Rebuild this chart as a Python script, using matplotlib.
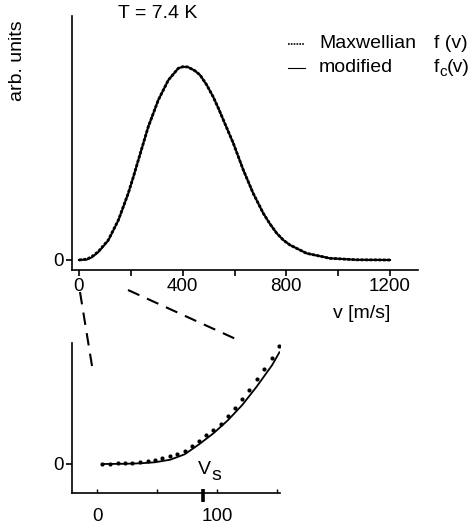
import matplotlib
matplotlib.use('Agg')
import matplotlib.pyplot as plt
from matplotlib.lines import Line2D

plt.rcParams['font.family'] = ['Liberation Sans', 'DejaVu Sans']

# main panel (v in m/s, arb. units)
v_main = [0, 30, 49, 74, 113, 152, 190, 210, 229, 267, 306, 345, 383, 400,
          420, 447, 467, 493, 518, 538, 557, 595, 634, 672, 711, 737, 763,
          788, 814, 878, 968, 1071, 1200]
f_max = [0, 0.8, 3.3, 8.3, 20, 40, 66.7, 83.3, 100, 133, 160, 180, 191.7,
         193.2, 193, 189.3, 185, 175, 163, 151.7, 140, 117, 90, 66.7, 46.7,
         36, 26.7, 20, 15, 6.7, 1.7, 0.2, 0]
f_mod = [0, 0.5, 2.6, 7.8, 19.5, 39.7, 66.6, 83.3, 100, 133, 160, 180, 191.7,
         193.2, 193, 189.3, 185, 175, 163, 151.7, 140, 117, 90, 66.7, 46.7,
         36, 26.7, 20, 15, 6.7, 1.7, 0.2, 0]

# zoomed panel
v_dots = [4, 11, 17, 23, 29, 36, 42, 48, 54, 61, 67, 73, 79, 85, 91, 97, 103,
          109, 115, 121, 127, 133, 139, 146, 152]
f_dots = [0, 0.3, 0.7, 1.0, 1.3, 2.0, 3.0, 4.3, 6.0, 7.7, 10, 13.3, 18, 23,
          28.7, 34.3, 40.3, 47.7, 56, 64.7, 74, 84.7, 94.7, 106, 118]
v_line = [4, 23, 36, 48, 61, 73, 85, 97, 109, 121, 133, 146, 152]
f_line = [0, 0.2, 0.7, 1.7, 4.3, 9.7, 19.7, 30.7, 43.7, 59, 77.3, 99, 111.7]
vs = 88

W, H = 472, 525
fs = 14


def fx(px):
    return px / W


def fy(py):
    return 1 - py / H


def ftext(px, py, s, size=fs, **kw):
    fig.text(fx(px), fy(py), s, fontsize=size, va='center', **kw)


fig = plt.figure(figsize=(W / 100, H / 100), dpi=100)

ax = fig.add_axes([fx(72), fy(270), fx(418) - fx(72), fy(16) - fy(270)])
ax.plot(v_main, f_max, color='black', lw=2.0, ls=(0, (1, 0.6)))
ax.plot(v_main, f_mod, color='black', lw=1.5)
ax.set_xlim(-27, 1308)
ax.set_ylim(-10, 244)
ax.set_xticks([0, 400, 800, 1200])
ax.set_xticks([200, 600, 1000], minor=True)
ax.set_yticks([0])
for s in ['top', 'right']:
    ax.spines[s].set_visible(False)
for s in ['left', 'bottom']:
    ax.spines[s].set_linewidth(1.2)
ax.tick_params(which='both', direction='out', length=4, width=1.2,
               labelsize=13.5, pad=2)

ax2 = fig.add_axes([fx(72), fy(493), fx(280) - fx(72), fy(343) - fy(493)])
ax2.plot(v_dots, f_dots, 'o', color='black', ms=3.0, mew=0)
ax2.plot(v_line, f_line, color='black', lw=1.3)
ax2.plot([vs, vs], [-25, -38], color='black', lw=2.6, clip_on=False,
         solid_capstyle='butt')
ax2.set_xlim(-21, 152.5)
ax2.set_ylim(-29, 121)
ax2.set_xticks([0, 100])
ax2.set_xticks([50, 150], minor=True)
ax2.set_yticks([0])
for s in ['top', 'right']:
    ax2.spines[s].set_visible(False)
for s in ['left', 'bottom']:
    ax2.spines[s].set_linewidth(1.2)
ax2.tick_params(axis='x', which='both', direction='in', length=3, width=1.0,
                labelsize=13.5, pad=11)
ax2.tick_params(axis='y', direction='out', length=4, width=1.2,
                labelsize=13.5, pad=2)

# V_s label, subscript drawn as a lowered letter
ftext(204, 469, 'V', ha='center')
ftext(211, 475, 's', ha='left')

# labels and legend
ftext(158, 14, 'T = 7.4 K', ha='center')
fig.text(fx(18), fy(61), 'arb. units', fontsize=fs, rotation=90,
         ha='center', va='center')
ftext(390, 313, 'v [m/s]', ha='right')

fig.add_artist(Line2D([fx(288), fx(305)], [fy(44), fy(44)], color='black',
                      lw=1.2, ls=(0, (1, 0.7)), transform=fig.transFigure))
fig.add_artist(Line2D([fx(288), fx(305)], [fy(68), fy(68)], color='black',
                      lw=0.8, transform=fig.transFigure))
ftext(319, 44, 'Maxwellian', ha='left')
ftext(319, 68, 'modified', ha='left')
ftext(434, 44, 'f (v)', ha='left')
ftext(434, 68, 'f', ha='left')
ftext(439.5, 72, 'c', size=11, ha='left')
ftext(447, 68, '(v)', ha='left')

# dashed connectors from the main axis to the zoom
fig.add_artist(Line2D([fx(80), fx(93)], [fy(292), fy(372)], color='black',
                      lw=1.5, ls=(0, (6, 4)), transform=fig.transFigure))
fig.add_artist(Line2D([fx(128), fx(238)], [fy(290), fy(340)], color='black',
                      lw=1.5, ls=(0, (6, 4)), transform=fig.transFigure))

fig.savefig('out.png', dpi=100)
